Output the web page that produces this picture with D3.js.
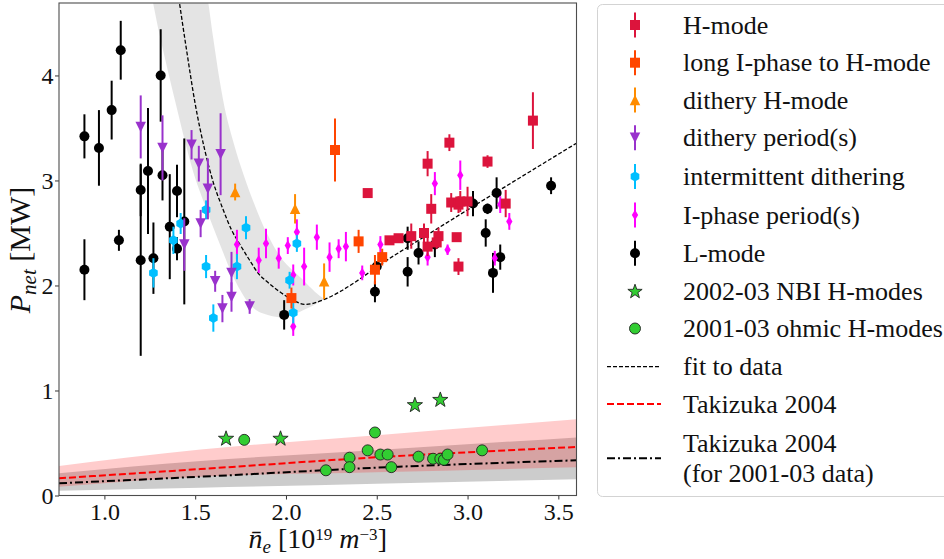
<!DOCTYPE html>
<html>
<head>
<meta charset="utf-8">
<script src="https://cdn.jsdelivr.net/npm/d3@7"></script>
<style>
  body { margin: 0; background: #fff; }
  #chart text { font-family: "Liberation Serif", "Times New Roman", Tinos, "DejaVu Serif", serif; fill: #111; }
</style>
</head>
<body>
<svg id="chart" width="944" height="559"></svg>
<script>
// ---- Threshold power vs line-averaged density ----

// H-mode
const hModeNe  = [2.45, 2.78, 2.90, 2.80, 2.91, 2.95, 2.96, 3.00, 3.11, 3.21, 3.36, 2.57, 2.62, 2.69, 2.76, 2.78, 2.84, 2.83, 2.94, 2.95];
const hModeP   = [2.88, 3.16, 3.36, 2.73, 2.79, 2.77, 2.80, 2.80, 3.18, 2.78, 3.57, 2.43, 2.45, 2.47, 2.50, 2.37, 2.47, 2.41, 2.46, 2.18];
const hModeErr = [0.03, 0.12, 0.08, 0.14, 0.09, 0.08, 0.10, 0.14, 0.06, 0.13, 0.27, 0.03, 0.03, 0.12, 0.09, 0.09, 0.08, 0.06, 0.03, 0.08];

// long I-phase to H-mode
const longINe  = [2.27, 2.03, 2.40, 2.53, 2.49];
const longIP   = [3.29, 1.88, 2.42, 2.27, 2.15];
const longIErr = [0.30, 0.10, 0.11, 0.08, 0.14];

// dithery H-mode
const dithHNe  = [1.72, 2.05, 2.21];
const dithHP   = [2.89, 2.73, 2.04];
const dithHErr = [0.08, 0.14, 0.17];

// dithery period(s)
const dithPNe  = [1.20, 1.32, 1.48, 1.52, 1.57, 1.64, 1.53, 1.44, 1.61, 1.65, 1.70, 1.70, 1.80];
const dithPP   = [3.51, 3.31, 3.34, 3.16, 2.92, 3.25, 2.59, 2.39, 2.04, 1.78, 2.12, 1.89, 1.80];
const dithPErr = [0.30, 0.31, 0.14, 0.17, 0.29, 0.39, 0.13, 0.25, 0.10, 0.13, 0.20, 0.14, 0.07];

// intermittent dithering
const interNe  = [1.56, 1.42, 1.38, 1.27, 1.56, 1.60, 1.78, 1.73, 2.06, 2.02, 2.04];
const interP   = [2.72, 2.59, 2.43, 2.12, 2.18, 1.69, 2.55, 2.18, 2.40, 2.05, 1.74];
const interErr = [0.09, 0.10, 0.13, 0.14, 0.11, 0.13, 0.11, 0.12, 0.08, 0.08, 0.10];

// I-phase period(s)
const iPhaseNe  = [1.73, 1.89, 1.85, 1.96, 2.01, 2.06, 2.04, 2.10, 2.17, 2.24, 2.29, 2.33, 2.04, 2.42, 2.52, 2.82, 2.96, 2.89, 2.78, 3.15, 3.23, 3.18];
const iPhaseP   = [2.39, 2.40, 2.24, 2.26, 2.38, 2.51, 2.10, 2.18, 2.46, 2.27, 2.35, 2.37, 1.61, 2.12, 2.39, 2.97, 3.05, 2.34, 2.27, 2.26, 2.61, 2.77];
const iPhaseErr = [0.14, 0.14, 0.12, 0.10, 0.08, 0.12, 0.10, 0.18, 0.12, 0.14, 0.09, 0.14, 0.09, 0.07, 0.08, 0.11, 0.14, 0.05, 0.08, 0.07, 0.08, 0.08];

// L-mode
const lModeNe  = [0.89, 0.89, 0.97, 1.04, 1.08, 1.09, 1.20, 1.20, 1.24, 1.27, 1.31, 1.32, 1.36, 1.40, 1.40, 1.44, 1.99, 2.49, 2.50, 2.67, 2.67, 2.73, 2.82, 3.03, 3.11, 3.10, 3.16, 3.14, 3.18, 3.46];
const lModeP   = [2.15, 3.42, 3.31, 3.67, 2.43, 4.24, 2.91, 2.24, 3.09, 2.26, 4.00, 3.05, 2.56, 2.90, 2.35, 2.61, 1.72, 1.94, 2.18, 2.45, 2.13, 2.31, 2.39, 2.78, 2.73, 2.50, 2.88, 2.12, 2.27, 2.95];
const lModeErr = [0.29, 0.21, 0.36, 0.28, 0.10, 0.28, 0.25, 0.91, 0.60, 0.34, 0.44, 0.24, 0.50, 0.25, 0.11, 0.79, 0.14, 0.10, 0.05, 0.11, 0.14, 0.11, 0.12, 0.12, 0.05, 0.13, 0.15, 0.19, 0.12, 0.08];

// 2002-03 NBI H-modes
const nbiNe = [1.67, 1.97, 2.71, 2.85];
const nbiP  = [0.54, 0.54, 0.86, 0.91];

// 2001-03 ohmic H-modes
const ohmNe = [1.77, 2.22, 2.35, 2.35, 2.45, 2.49, 2.52, 2.56, 2.58, 2.73, 2.81, 2.85, 2.87, 2.89, 3.08];
const ohmP  = [0.53, 0.24, 0.36, 0.27, 0.43, 0.60, 0.39, 0.39, 0.27, 0.37, 0.35, 0.35, 0.34, 0.39, 0.43];

// fit to data and its uncertainty band
const fitNe = [1.40, 1.45, 1.50, 1.55, 1.60, 1.65, 1.70, 1.75, 1.80, 1.85, 1.90, 1.95, 2.00, 2.05, 2.10, 2.15, 2.20, 2.60, 3.00, 3.60];
const fitP  = [4.85, 4.27, 3.73, 3.31, 2.98, 2.74, 2.53, 2.38, 2.24, 2.11, 2.03, 1.96, 1.90, 1.85, 1.82, 1.83, 1.86, 2.29, 2.72, 3.355];
const fitUpNe = [1.555, 1.570, 1.60, 1.637, 1.67, 1.708, 1.75, 1.818, 1.90, 1.983, 2.077, 2.169, 2.21];
const fitUpP  = [4.85, 4.717, 4.35, 3.93, 3.63, 3.38, 3.14, 2.81, 2.48, 2.24, 2.08, 1.925, 1.87];
const fitLoNe = [1.25, 1.30, 1.35, 1.40, 1.45, 1.50, 1.55, 1.60, 1.65, 1.70, 1.75, 1.80, 1.85, 1.90, 1.95, 2.00, 2.05, 2.10, 2.15, 2.21];
const fitLoP  = [4.85, 4.42, 4.04, 3.68, 3.33, 3.02, 2.78, 2.55, 2.33, 2.12, 1.95, 1.82, 1.75, 1.72, 1.70, 1.70, 1.73, 1.77, 1.81, 1.87];

// Takizuka 2004 scaling and the same scaling for the 2001-03 data
const takNe   = [0.75, 1.53, 2.50, 3.60];
const takP    = [0.164, 0.252, 0.364, 0.462];
const takLo   = [0.084, 0.179, 0.221, 0.268];
const takHi   = [0.281, 0.438, 0.574, 0.725];
const tak01P  = [0.116, 0.179, 0.265, 0.335];
const tak01Lo = [0.046, 0.074, 0.112, 0.154];
const tak01Hi = [0.211, 0.328, 0.434, 0.553];

const xTicks = [1.0, 1.5, 2.0, 2.5, 3.0, 3.5];
const yTicks = [0, 1, 2, 3, 4];

// ---- layout ----
const SERIF = "'Liberation Serif','Times New Roman',Tinos,'DejaVu Serif',serif";
const plot = { left: 59, right: 576.5, top: 3, bottom: 495.5 };
const svg = d3.select("#chart");
const x = d3.scaleLinear().domain([0.75, 3.6]).range([plot.left, plot.right]);
const y = d3.scaleLinear().domain([0, 4.69]).range([plot.bottom, plot.top]);

svg.append("defs").append("clipPath").attr("id", "plotClip")
  .append("rect").attr("x", plot.left).attr("y", plot.top)
  .attr("width", plot.right - plot.left).attr("height", plot.bottom - plot.top);

const zip2 = (a, b) => a.map((v, i) => [v, b[i]]);

// marker shapes
function markerPath(kind, s) {
  const h = s / 2;
  switch (kind) {
    case "square": return `M${-h},${-h}h${s}v${s}h${-s}Z`;
    case "circle": return `M${h},0A${h},${h},0,1,1,${-h},0A${h},${h},0,1,1,${h},0Z`;
    case "triUp": return `M0,${-h}L${h},${h}L${-h},${h}Z`;
    case "triDown": return `M0,${h}L${h},${-h}L${-h},${-h}Z`;
    case "thinDiamond": return `M0,${-h}L${0.3 * s},0L0,${h}L${-0.3 * s},0Z`;
    case "hexagon": {
      const pts = d3.range(6).map(k => {
        const a = -Math.PI / 2 + k * Math.PI / 3;
        return [h * Math.cos(a), h * Math.sin(a)];
      });
      return "M" + pts.map(p => p.join(",")).join("L") + "Z";
    }
    case "star": {
      const pts = d3.range(10).map(k => {
        const r = k % 2 === 0 ? h : h * 0.4;
        const a = -Math.PI / 2 + k * Math.PI / 5;
        return [r * Math.cos(a), r * Math.sin(a)];
      });
      return "M" + pts.map(p => p.map(v => v.toFixed(2)).join(",")).join("L") + "Z";
    }
  }
}

const plotG = svg.append("g");
const clipped = plotG.append("g").attr("clip-path", "url(#plotClip)");

// fit uncertainty band
const edge = d3.line().x(d => x(d[0])).y(d => y(d[1])).curve(d3.curveCatmullRom);
const upStr = edge(zip2(fitUpNe, fitUpP));
const loStr = edge(zip2(fitLoNe, fitLoP).reverse());
clipped.append("path")
  .attr("d", upStr + "L" + loStr.slice(1) + "Z")
  .attr("fill", "#000").attr("fill-opacity", 0.105);

// Takizuka bands
const band = (lo, hi) => d3.area()
  .x((d, i) => x(takNe[i])).y0((d, i) => y(lo[i])).y1((d, i) => y(hi[i]))
  .curve(d3.curveMonotoneX)(takNe);
clipped.append("path").attr("d", band(tak01Lo, tak01Hi)).attr("fill", "#000").attr("fill-opacity", 0.2);
clipped.append("path").attr("d", band(takLo, takHi)).attr("fill", "#ff0000").attr("fill-opacity", 0.2);

const curveLine = d3.line().x(d => x(d[0])).y(d => y(d[1])).curve(d3.curveMonotoneX);
clipped.append("path").attr("d", curveLine(zip2(takNe, takP)))
  .attr("fill", "none").attr("stroke", "#ff0000").attr("stroke-width", 2).attr("stroke-dasharray", "7,3");
clipped.append("path").attr("d", curveLine(zip2(takNe, tak01P)))
  .attr("fill", "none").attr("stroke", "#000").attr("stroke-width", 2).attr("stroke-dasharray", "8,3,2,3");

// fit line
clipped.append("path").attr("d", curveLine(zip2(fitNe, fitP)))
  .attr("fill", "none").attr("stroke", "#000").attr("stroke-width", 1.3).attr("stroke-dasharray", "4,2");

// error-bar series, drawn so that L-mode sits at the back
const series = [
  { color: "#000000", marker: "circle",      size: 10,   ne: lModeNe,  p: lModeP,  err: lModeErr },
  { color: "#ff00ff", marker: "thinDiamond", size: 10.5, ne: iPhaseNe, p: iPhaseP, err: iPhaseErr },
  { color: "#00bfff", marker: "hexagon",     size: 10,   ne: interNe,  p: interP,  err: interErr },
  { color: "#9932cc", marker: "triDown",     size: 10.5, ne: dithPNe,  p: dithPP,  err: dithPErr },
  { color: "#ff8c00", marker: "triUp",       size: 10.5, ne: dithHNe,  p: dithHP,  err: dithHErr },
  { color: "#ff4500", marker: "square",      size: 10,   ne: longINe,  p: longIP,  err: longIErr },
  { color: "#dc143c", marker: "square",      size: 10,   ne: hModeNe,  p: hModeP,  err: hModeErr }
];

series.forEach(s => {
  const rows = s.ne.map((n, i) => ({ ne: n, p: s.p[i], e: s.err[i] }));
  const g = plotG.append("g");
  g.selectAll("line").data(rows).join("line")
    .attr("x1", d => x(d.ne)).attr("x2", d => x(d.ne))
    .attr("y1", d => y(d.p - d.e)).attr("y2", d => y(d.p + d.e))
    .attr("stroke", s.color).attr("stroke-width", 2);
  g.selectAll("path").data(rows).join("path")
    .attr("d", markerPath(s.marker, s.size))
    .attr("transform", d => `translate(${x(d.ne)},${y(d.p)})`)
    .attr("fill", s.color);
});

// green markers
plotG.append("g").selectAll("path").data(zip2(ohmNe, ohmP)).join("path")
  .attr("d", markerPath("circle", 11))
  .attr("transform", d => `translate(${x(d[0])},${y(d[1])})`)
  .attr("fill", "#32cd32").attr("stroke", "#222").attr("stroke-width", 0.9);
plotG.append("g").selectAll("path").data(zip2(nbiNe, nbiP)).join("path")
  .attr("d", markerPath("star", 16))
  .attr("transform", d => `translate(${x(d[0])},${y(d[1])})`)
  .attr("fill", "#32cd32").attr("stroke", "#222").attr("stroke-width", 0.9);

// axes
const gx = svg.append("g").attr("transform", `translate(0,${plot.bottom})`)
  .call(d3.axisBottom(x).tickValues(xTicks).tickFormat(d3.format(".1f")).tickSize(4).tickPadding(3));
const gy = svg.append("g").attr("transform", `translate(${plot.left},0)`)
  .call(d3.axisLeft(y).tickValues(yTicks).tickFormat(d3.format("d")).tickSize(4).tickPadding(1.5));
[gx, gy].forEach(g => {
  g.attr("font-family", null);
  g.select(".domain").remove();
  g.selectAll(".tick line").attr("stroke", "#333");
  g.selectAll(".tick text").attr("font-size", 24).style("font-family", SERIF).attr("fill", "#111");
});

svg.append("rect")
  .attr("x", plot.left).attr("y", plot.top)
  .attr("width", plot.right - plot.left).attr("height", plot.bottom - plot.top)
  .attr("fill", "none").attr("stroke", "#4d4d4d").attr("stroke-width", 1.1);

// axis titles
const yl = svg.append("text").attr("transform", "translate(30,250) rotate(-90)")
  .attr("text-anchor", "middle").attr("font-size", 30).style("font-family", SERIF);
yl.append("tspan").attr("font-style", "italic").text("P");
yl.append("tspan").attr("font-style", "italic").attr("font-size", 21).attr("dy", 6).text("net");
yl.append("tspan").attr("dy", -6).text(" [MW]");

const xl = svg.append("text").attr("x", (plot.left + plot.right) / 2).attr("y", 548)
  .attr("text-anchor", "middle").attr("font-size", 28).style("font-family", SERIF);
xl.append("tspan").attr("font-style", "italic").text("n\u0304");
xl.append("tspan").attr("font-style", "italic").attr("font-size", 19).attr("dy", 5).text("e");
xl.append("tspan").attr("dy", -5).text(" [10");
xl.append("tspan").attr("font-size", 17).attr("dy", -8.5).text("19");
xl.append("tspan").attr("dy", 8.5).text(" ");
xl.append("tspan").attr("font-style", "italic").text("m");
xl.append("tspan").attr("font-size", 17).attr("dy", -8.5).text("\u22123");
xl.append("tspan").attr("dy", 8.5).text("]");

// legend
const leg = svg.append("g");
leg.append("rect").attr("x", 597.5).attr("y", 4.5).attr("width", 400).attr("height", 492)
  .attr("rx", 5).attr("fill", "#fff").attr("stroke", "#d3d3d3").attr("stroke-width", 1);

const legendRows = [
  { text: ["H-mode"], y: 25, kind: "err", color: "#dc143c", marker: "square", size: 10 },
  { text: ["long I-phase to H-mode"], y: 62.7, kind: "err", color: "#ff4500", marker: "square", size: 10 },
  { text: ["dithery H-mode"], y: 100, kind: "err", color: "#ff8c00", marker: "triUp", size: 10.5 },
  { text: ["dithery period(s)"], y: 137.7, kind: "err", color: "#9932cc", marker: "triDown", size: 10.5 },
  { text: ["intermittent dithering"], y: 176.5, kind: "err", color: "#00bfff", marker: "hexagon", size: 10 },
  { text: ["I-phase period(s)"], y: 215, kind: "err", color: "#ff00ff", marker: "thinDiamond", size: 10.5 },
  { text: ["L-mode"], y: 253.3, kind: "err", color: "#000000", marker: "circle", size: 10 },
  { text: ["2002-03 NBI H-modes"], y: 291.7, kind: "pt", marker: "star", size: 15 },
  { text: ["2001-03 ohmic H-modes"], y: 328.5, kind: "pt", marker: "circle", size: 11 },
  { text: ["fit to data"], y: 366.7, kind: "line", color: "#000", width: 1.2, dash: "4,2" },
  { text: ["Takizuka 2004"], y: 404, kind: "line", color: "#ff0000", width: 2, dash: "7,3" },
  { text: ["Takizuka 2004", "(for 2001-03 data)"], y: 458.3, kind: "line", color: "#000", width: 2, dash: "8,3,2,3" }
];
const mx = 635;
legendRows.forEach(r => {
  if (r.kind === "err") {
    leg.append("line").attr("x1", mx).attr("x2", mx).attr("y1", r.y - 12.5).attr("y2", r.y + 12.5)
      .attr("stroke", r.color).attr("stroke-width", 2);
    leg.append("path").attr("d", markerPath(r.marker, r.size))
      .attr("transform", `translate(${mx},${r.y})`).attr("fill", r.color);
  } else if (r.kind === "pt") {
    leg.append("path").attr("d", markerPath(r.marker, r.size))
      .attr("transform", `translate(${mx},${r.y})`)
      .attr("fill", "#32cd32").attr("stroke", "#222").attr("stroke-width", 0.9);
  } else {
    leg.append("line").attr("x1", 607).attr("x2", 661).attr("y1", r.y).attr("y2", r.y)
      .attr("stroke", r.color).attr("stroke-width", r.width).attr("stroke-dasharray", r.dash);
  }
  const n = r.text.length;
  r.text.forEach((t, i) => {
    leg.append("text").attr("x", 683).attr("y", r.y + 8.5 + (i - (n - 1) / 2) * 30)
      .attr("font-size", 26).style("font-family", SERIF).text(t);
  });
});
</script>
</body>
</html>
